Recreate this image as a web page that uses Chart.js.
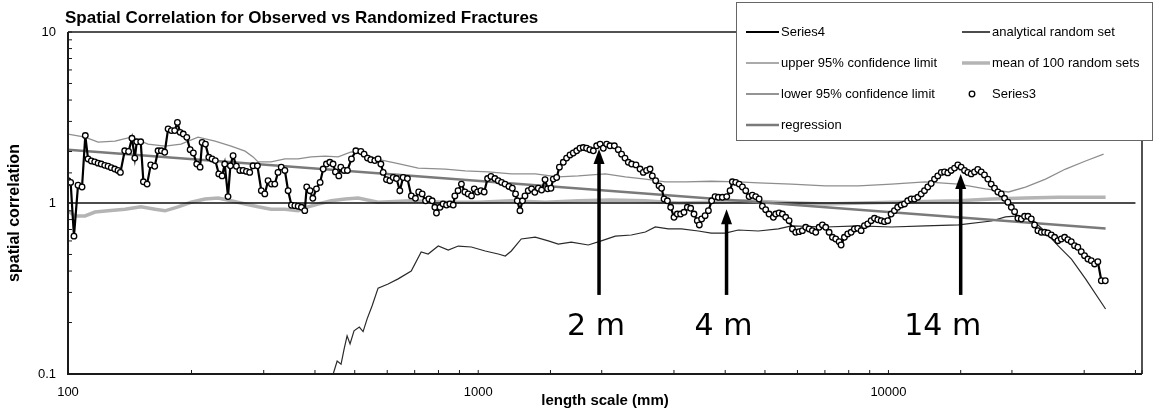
<!DOCTYPE html>
<html>
<head>
<meta charset="utf-8">
<script src="https://cdn.jsdelivr.net/npm/chart.js@4.4.1/dist/chart.umd.min.js"></script>
<style>
  html, body { margin: 0; padding: 0; background: #fff; }
</style>
</head>
<body>
<canvas id="myChart" width="1161" height="412"></canvas>
<script>
// observed spatial correlation (Series3 markers / Series4 line), x = length scale in mm
const obsX = [
  100, 101.5, 103.4, 105.8, 108.2, 110.2, 111.9, 114, 116.2, 118.4,
  120.5, 122.9, 125.2, 127.5, 130, 132.4, 134.2, 137.5, 140.5, 143.2,
  145.5, 147.1, 150.4, 152.7, 155.9, 159.1, 162.7, 165.8, 168.9, 172.1,
  175.4, 178.6, 182, 184.8, 187.6, 191, 194.8, 198.5, 202.1, 206,
  209.9, 212.3, 216.3, 220.4, 224.5, 228.6, 233.1, 237.5, 241, 245.5,
  248.8, 252.6, 257.3, 262.3, 267.2, 272.3, 277.3, 282.5, 289.5, 296,
  301.8, 307.4, 313.3, 319.2, 325, 331, 337.8, 344, 350.5, 357.3,
  364, 370.7, 377.7, 381.9, 389, 395.2, 403.3, 411.7, 418.8, 426.6,
  434.8, 442.7, 448.7, 457.2, 462.4, 471, 479.8, 490.9, 503.1,
  517.5, 527, 537, 547, 559.6, 570, 579, 586.6, 597.5, 609,
  620.5, 632, 644, 656, 672, 687, 703, 716, 730, 744,
  758, 772, 784, 791, 807, 821, 837, 853, 869, 877,
  893, 910, 928, 945, 963, 978, 996, 1015, 1034, 1054,
  1074, 1098, 1119, 1140, 1162, 1188, 1211, 1233, 1245, 1264,
  1282, 1300, 1324, 1349, 1374, 1401, 1427, 1455, 1476, 1504,
  1524, 1553, 1577, 1612, 1642, 1674, 1705, 1738, 1770, 1803,
  1837, 1871, 1908, 1944, 1982, 2018, 2056, 2095, 2147, 2195,
  2236, 2279, 2322, 2366, 2424, 2480, 2526, 2573, 2623, 2657,
  2707, 2759, 2799, 2838, 2891, 2945, 3001, 3057, 3114, 3174,
  3234, 3295, 3357, 3420, 3459, 3504, 3573, 3640, 3708, 3779,
  3849, 3936, 4034, 4111, 4164, 4243, 4325, 4406, 4488, 4574,
  4658, 4746, 4838, 4928, 5020, 5116, 5241, 5311, 5412, 5514,
  5617, 5725, 5834, 5943, 6057, 6168, 6285, 6406, 6525, 6648,
  6776, 6902, 7031, 7167, 7302, 7438, 7582, 7666, 7810, 7956,
  8110, 8260, 8414, 8578, 8739, 8903, 9074, 9246, 9419, 9600,
  9779, 9961, 10150, 10340, 10530, 10740, 10940, 11140, 11360, 11570,
  11790, 12020, 12240, 12470, 12710, 12950, 13190, 13450, 13700, 13950,
  14220, 14490, 14760, 15040, 15330, 15610, 15910, 16210, 16510, 16830,
  17140, 17470, 17800, 18140, 18480, 18840, 19190, 19550, 19930, 20300,
  20680, 21080, 21470, 21880, 22290, 22710, 23140, 23580, 24020, 24460,
  24940, 25410, 25880, 26380, 26880, 27370, 27900, 28420, 28950, 29510,
  30060, 30630, 31220, 31800, 32390, 33030, 33770
];
const obsY = [
  1.35, 1.32, 0.64, 1.27, 1.24, 2.48, 1.81, 1.76, 1.74, 1.71,
  1.69, 1.66, 1.64, 1.61, 1.58, 1.55, 1.51, 2.02, 2.0, 2.39,
  1.83, 2.28, 2.28, 1.33, 1.29, 1.67, 1.64, 2.02, 2.02, 1.98,
  2.71, 2.65, 2.65, 2.96, 2.59, 2.53, 2.42, 2.05, 1.96, 1.69,
  1.62, 2.26, 2.21, 1.85, 1.81, 1.77, 1.48, 1.44, 1.69, 1.09,
  1.65, 1.89, 1.64, 1.55, 1.55, 1.53, 1.51, 1.65, 1.65, 1.18,
  1.13, 1.35, 1.29, 1.29, 1.51, 1.62, 1.55, 1.18, 0.97, 0.965,
  0.957, 0.944, 0.902, 1.24, 1.18, 1.065, 1.21, 1.32, 1.58, 1.69,
  1.73, 1.69, 1.52, 1.44, 1.62, 1.55, 1.55, 1.81, 2.02,
  2.0, 1.93, 1.83, 1.79, 1.77, 1.81, 1.69, 1.51, 1.37, 1.35,
  1.41, 1.39, 1.18, 1.41, 1.39, 1.10, 1.065, 1.16, 1.13, 1.03,
  1.055, 1.03, 0.944, 0.874, 0.944, 0.987, 0.973, 0.987, 0.973, 1.10,
  1.18, 1.29, 1.16, 1.13, 1.10, 1.21, 1.16, 1.18, 1.16, 1.39,
  1.43, 1.39, 1.35, 1.32, 1.29, 1.25, 1.22, 1.13, 1.03, 0.902,
  1.03, 1.10, 1.18, 1.21, 1.155, 1.22, 1.19, 1.37, 1.21, 1.22,
  1.38, 1.41, 1.62, 1.73, 1.83, 1.91, 1.96, 2.02, 2.09, 2.11,
  2.09, 2.05, 2.02, 2.16, 2.21, 2.09, 2.21, 2.16, 2.16, 2.05,
  1.93, 1.83, 1.73, 1.69, 1.67, 1.58, 1.51, 1.55, 1.58, 1.44,
  1.35, 1.26, 1.22, 1.055, 1.03, 0.944, 0.825, 0.862, 0.862, 0.882,
  0.944, 0.931, 0.862, 0.788, 0.744, 0.806, 0.843, 0.902, 1.03, 1.09,
  1.08, 1.08, 1.09, 1.18, 1.33, 1.32, 1.29, 1.24, 1.18, 1.09,
  1.11, 1.09, 1.055, 0.957, 0.914, 0.862, 0.825, 0.862, 0.874, 0.862,
  0.825, 0.788, 0.705, 0.674, 0.68, 0.689, 0.721, 0.705, 0.689, 0.674,
  0.721, 0.744, 0.721, 0.674, 0.63, 0.616, 0.594, 0.568, 0.63, 0.659,
  0.674, 0.705, 0.711, 0.689, 0.737, 0.754, 0.788, 0.814, 0.798, 0.788,
  0.778, 0.788, 0.862, 0.902, 0.944, 0.973, 0.987, 1.03, 1.055, 1.055,
  1.08, 1.13, 1.18, 1.24, 1.30, 1.38, 1.44, 1.51, 1.52, 1.50,
  1.55, 1.60, 1.67, 1.62, 1.55, 1.51, 1.48, 1.52, 1.57, 1.52,
  1.46, 1.38, 1.29, 1.22, 1.16, 1.13, 1.065, 1.01, 0.944, 0.89,
  0.814, 0.806, 0.836, 0.836, 0.806, 0.744, 0.689, 0.674, 0.674, 0.668,
  0.65, 0.63, 0.602, 0.616, 0.63, 0.61, 0.594, 0.563, 0.551, 0.519,
  0.492, 0.47, 0.46, 0.44, 0.454, 0.351, 0.351
];

// upper 95% confidence limit
const upperX = [100, 110, 118.4, 130.2, 142.5, 156.7, 172.4, 188.6, 207.5, 228.3,
  249.8, 270.2, 282.6, 290.6, 312.6, 338, 363.8, 391.5, 423.5, 455.5,
  489.9, 530.1, 570.2, 638.2, 714.1, 830.9, 929.4, 1058, 1204, 1377,
  1567, 1754, 2041, 2283, 2555, 2858, 3198, 3698, 4305, 4819,
  5800, 7020, 8450, 10170, 12300, 14820, 17240, 19620, 21580, 24150,
  27020, 30230, 33450];
const upperY = [2.53, 2.43, 2.27, 2.30, 2.43, 2.21, 2.15, 2.21, 2.43, 2.30,
  2.15, 2.01, 1.86, 1.74, 1.74, 1.81, 1.81, 1.86, 1.88, 1.86,
  1.99, 1.93, 1.80, 1.70, 1.60, 1.58, 1.54, 1.52, 1.48, 1.48,
  1.42, 1.44, 1.48, 1.42, 1.38, 1.33, 1.33, 1.34, 1.33, 1.31,
  1.29, 1.26, 1.26, 1.29, 1.33, 1.29, 1.21, 1.16, 1.24, 1.38,
  1.58, 1.76, 1.93];

// mean of 100 random sets
const meanX = [100, 104, 110, 116.4, 125.2, 137.7, 150.6, 163, 172.4, 185.5,
  199.5, 215.9, 232.3, 249.8, 270.2, 290.6, 312.6, 338, 363.8, 384.9,
  407.3, 438, 473.9, 509.7, 570, 686.5, 830.9, 1000, 1204, 1457,
  1754, 2111, 2555, 3075, 3698, 4480, 5392, 7020, 10170, 14820,
  17830, 21580, 25970, 33830];
const meanY = [0.90, 0.84, 0.84, 0.885, 0.90, 0.92, 0.95, 0.92, 0.90, 0.95,
  1.01, 1.055, 1.07, 1.03, 0.987, 0.95, 0.92, 0.92, 0.90, 0.95,
  0.987, 1.03, 1.055, 1.07, 1.01, 1.03, 1.01, 1.01, 1.03, 1.01,
  1.03, 1.04, 1.03, 1.0, 1.01, 1.03, 1.01, 0.987, 1.01, 1.03,
  1.055, 1.07, 1.08, 1.08];

// lower 95% confidence limit
const lowerX = [443, 453, 463, 471, 479, 487, 498, 513, 524, 536,
  551, 570, 603, 638, 686.5, 726, 755, 799, 845, 894,
  962, 1040, 1119, 1164, 1204, 1273, 1377, 1482, 1567, 1686,
  1855, 1995, 2159, 2362, 2555, 2702, 2907, 3127, 3440, 3698,
  4002, 4305, 4819, 5392, 5800, 7020, 8450, 10170, 12300, 14820,
  17830, 19290, 20750, 22330, 24150, 25970, 27930, 30230, 33830];
const lowerY = [0.10, 0.119, 0.114, 0.14, 0.167, 0.15, 0.179, 0.188, 0.177, 0.21,
  0.25, 0.318, 0.336, 0.36, 0.40, 0.517, 0.503, 0.56, 0.53, 0.56,
  0.553, 0.524, 0.503, 0.49, 0.524, 0.616, 0.632, 0.60, 0.575, 0.59,
  0.568, 0.60, 0.64, 0.65, 0.677, 0.724, 0.705, 0.705, 0.686, 0.667,
  0.667, 0.695, 0.686, 0.705, 0.734, 0.724, 0.734, 0.724, 0.734, 0.744,
  0.785, 0.83, 0.84, 0.806, 0.677, 0.56, 0.47, 0.36, 0.24];

// regression (power-law fit) and analytical random set
const regX = [100, 33830];
const regY = [2.05, 0.71];
const analyticX = [100, 40000];
const analyticY = [1, 1];

// axis labels and annotations
const xTickLabels = [100, 1000, 10000];
const yTickLabels = [0.1, 1, 10];
const arrowX = [1970, 4030, 15000];
const arrowTipY = [2.07, 0.92, 1.48];
const arrowBaseY = 0.29;
const arrowLabelY = 0.17;
const arrowText = ['2 m', '4 m', '14 m'];
const arrowTextShift = [-3, -3, -18];

const FONT = '"Liberation Sans", Arial, sans-serif';
Chart.defaults.font.family = FONT;
Chart.defaults.color = '#000';

const toPoints = (xs, ys) => xs.map((x, i) => ({ x: x, y: ys[i] }));
const isLabel = (v, list) => list.some(l => Math.abs(Math.log10(v) - Math.log10(l)) < 1e-6);

// plot frame and inward tick marks
const frame = {
  id: 'frame',
  afterDatasetsDraw(chart) {
    const { ctx, chartArea: a } = chart;
    const xs = chart.scales.x, ys = chart.scales.y;
    ctx.save();
    ctx.strokeStyle = '#1a1a1a';
    ctx.lineWidth = 1.5;
    ctx.beginPath();
    ctx.moveTo(a.left, a.top); ctx.lineTo(a.right, a.top); ctx.lineTo(a.right, a.bottom);
    ctx.stroke();
    ctx.lineWidth = 2;
    ctx.beginPath();
    ctx.moveTo(a.left, a.top); ctx.lineTo(a.left, a.bottom); ctx.lineTo(a.right, a.bottom);
    ctx.stroke();
    ctx.lineWidth = 1;
    xs.ticks.forEach(t => {
      const p = xs.getPixelForValue(t.value);
      ctx.beginPath(); ctx.moveTo(p, a.bottom); ctx.lineTo(p, a.bottom - 4); ctx.stroke();
    });
    ys.ticks.forEach(t => {
      const p = ys.getPixelForValue(t.value);
      ctx.beginPath(); ctx.moveTo(a.left, p); ctx.lineTo(a.left + 4, p); ctx.stroke();
    });
    ctx.restore();
  }
};

// arrows pointing at the 2 m, 4 m and 14 m peaks
const arrows = {
  id: 'arrows',
  afterDatasetsDraw(chart) {
    const { ctx } = chart;
    const xs = chart.scales.x, ys = chart.scales.y;
    ctx.save();
    ctx.fillStyle = '#000';
    ctx.strokeStyle = '#000';
    arrowX.forEach((v, i) => {
      const px = xs.getPixelForValue(v);
      const tip = ys.getPixelForValue(arrowTipY[i]);
      const base = ys.getPixelForValue(arrowBaseY);
      ctx.lineWidth = 3.5;
      ctx.beginPath(); ctx.moveTo(px, base); ctx.lineTo(px, tip + 10); ctx.stroke();
      ctx.beginPath();
      ctx.moveTo(px, tip); ctx.lineTo(px - 5.5, tip + 15); ctx.lineTo(px + 5.5, tip + 15);
      ctx.closePath(); ctx.fill();
      ctx.font = '30px "DejaVu Sans"';
      ctx.textAlign = 'center';
      ctx.textBaseline = 'alphabetic';
      ctx.fillText(arrowText[i], px + arrowTextShift[i], ys.getPixelForValue(arrowLabelY));
    });
    ctx.restore();
  }
};

// chart title, y axis title and boxed two-column legend
const titleAndLegend = {
  id: 'titleAndLegend',
  afterDraw(chart) {
    const { ctx } = chart;
    ctx.save();
    ctx.font = 'bold 17px ' + FONT;
    ctx.fillStyle = '#000';
    ctx.textAlign = 'left';
    ctx.textBaseline = 'alphabetic';
    ctx.fillText('Spatial Correlation for Observed vs Randomized Fractures', 65, 23);

    ctx.save();
    ctx.translate(15, 213);
    ctx.rotate(-Math.PI / 2);
    ctx.font = 'bold 16px ' + FONT;
    ctx.textAlign = 'center';
    ctx.textBaseline = 'middle';
    ctx.fillText('spatial correlation', 0, 0);
    ctx.restore();

    const box = { left: 736, top: 2, right: 1153, bottom: 141 };
    ctx.fillStyle = '#fff';
    ctx.fillRect(box.left, box.top, box.right - box.left, box.bottom - box.top);
    ctx.strokeStyle = '#666';
    ctx.lineWidth = 1;
    ctx.strokeRect(box.left + 0.5, box.top + 0.5, box.right - box.left - 1, box.bottom - box.top - 1);

    const cols = [{ x0: 746, x1: 779 }, { x0: 962, x1: 990 }];
    const rows = [32, 63, 94, 125];
    const layout = [
      ['Series4', 0, 0], ['analytical random set', 1, 0],
      ['upper 95% confidence limit', 0, 1], ['mean of 100 random sets', 1, 1],
      ['lower 95% confidence limit', 0, 2], ['Series3', 1, 2],
      ['regression', 0, 3]
    ];
    ctx.font = '13px ' + FONT;
    ctx.textAlign = 'left';
    ctx.textBaseline = 'middle';
    layout.forEach(([label, c, r]) => {
      const ds = chart.data.datasets.find(d => d.label === label);
      const col = cols[c], y = rows[r];
      if (ds.showLine === false) {
        ctx.beginPath();
        ctx.arc((col.x0 + col.x1) / 2 - 4, y, ds.pointRadius, 0, Math.PI * 2);
        ctx.fillStyle = ds.pointBackgroundColor;
        ctx.fill();
        ctx.lineWidth = ds.pointBorderWidth;
        ctx.strokeStyle = ds.pointBorderColor;
        ctx.stroke();
      } else {
        ctx.beginPath();
        ctx.moveTo(col.x0, y); ctx.lineTo(col.x1, y);
        ctx.lineWidth = ds.borderWidth;
        ctx.strokeStyle = ds.borderColor;
        ctx.stroke();
      }
      ctx.fillStyle = '#000';
      ctx.fillText(label, col.x1 + 2, y);
    });
    ctx.restore();
  }
};

const ctx = document.querySelector('#myChart').getContext('2d');

new Chart(ctx, {
  type: 'line',
  data: {
    datasets: [
      {
        label: 'Series3', data: toPoints(obsX, obsY), showLine: false, order: 0,
        pointRadius: 2.8, pointBackgroundColor: '#fff', pointBorderColor: '#000', pointBorderWidth: 1.3
      },
      {
        label: 'Series4', data: toPoints(obsX, obsY), order: 1,
        borderColor: '#000', borderWidth: 2.2, pointRadius: 0
      },
      {
        label: 'regression', data: toPoints(regX, regY), order: 2,
        borderColor: '#7a7a7a', borderWidth: 2.5, pointRadius: 0
      },
      {
        label: 'lower 95% confidence limit', data: toPoints(lowerX, lowerY), order: 3,
        borderColor: '#2a2a2a', borderWidth: 1.2, pointRadius: 0
      },
      {
        label: 'upper 95% confidence limit', data: toPoints(upperX, upperY), order: 4,
        borderColor: '#8e8e8e', borderWidth: 1.3, pointRadius: 0
      },
      {
        label: 'analytical random set', data: toPoints(analyticX, analyticY), order: 5,
        borderColor: '#111', borderWidth: 1.5, pointRadius: 0
      },
      {
        label: 'mean of 100 random sets', data: toPoints(meanX, meanY), order: 6,
        borderColor: '#b4b4b4', borderWidth: 3.5, pointRadius: 0
      }
    ]
  },
  options: {
    responsive: false,
    animation: false,
    devicePixelRatio: 1,
    layout: { padding: { left: 0, top: 32, right: 19, bottom: 0 } },
    elements: { line: { tension: 0 } },
    plugins: { legend: { display: false }, title: { display: false }, tooltip: { enabled: false } },
    scales: {
      x: {
        type: 'logarithmic', min: 100, max: 41500,
        grid: { display: false, drawTicks: false },
        border: { display: false },
        ticks: {
          autoSkip: false, maxRotation: 0, padding: 11,
          font: { size: 13 },
          callback: v => isLabel(v, xTickLabels) ? String(Math.round(v)) : ''
        },
        title: {
          display: true, text: 'length scale (mm)',
          font: { size: 15, weight: 'bold' }, padding: { top: 0, bottom: 2 }
        },
        afterFit: s => { s.height = 38; }
      },
      y: {
        type: 'logarithmic', min: 0.1, max: 10,
        grid: { display: false, drawTicks: false },
        border: { display: false },
        ticks: {
          autoSkip: false, padding: 12,
          font: { size: 13 },
          callback: v => isLabel(v, yTickLabels) ? String(+v.toPrecision(3)) : ''
        },
        afterFit: s => { s.width = 68; }
      }
    }
  },
  plugins: [frame, arrows, titleAndLegend]
});
</script>
</body>
</html>
